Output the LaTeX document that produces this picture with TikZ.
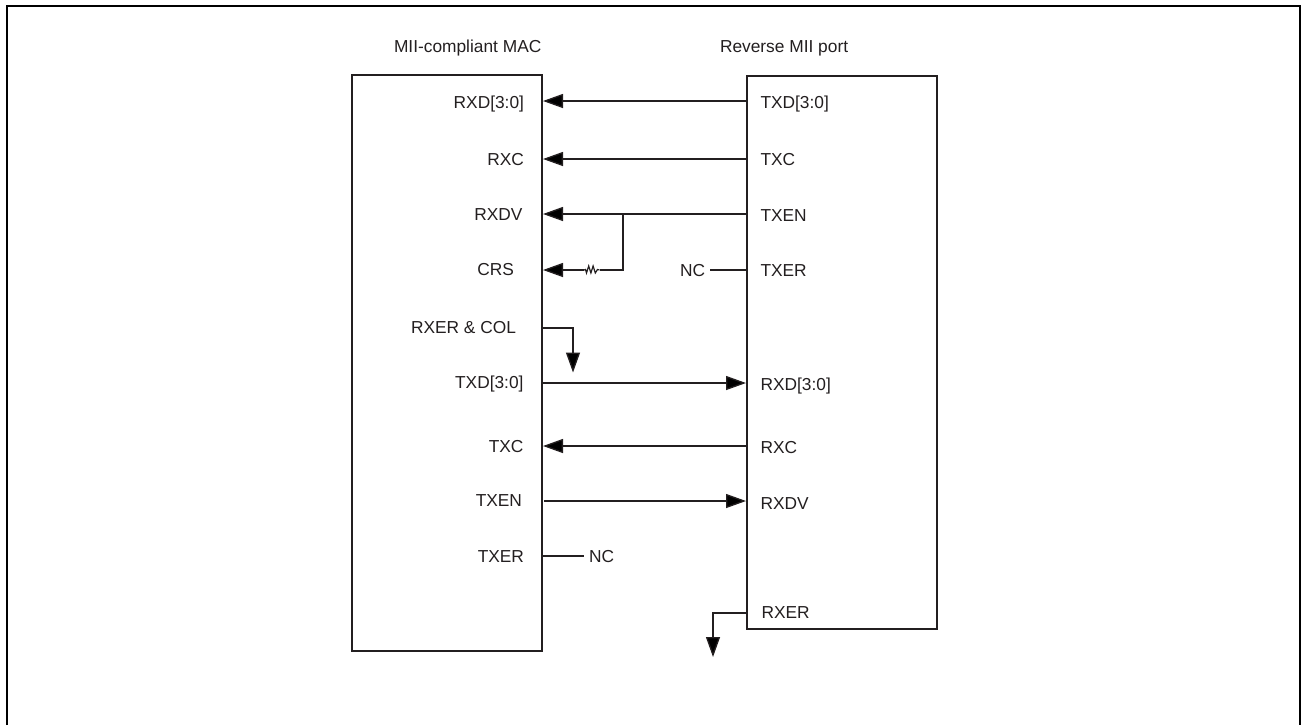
\documentclass[tikz,border=0pt]{standalone}
\usepackage{fontspec}
\setmainfont{Liberation Sans}
\usetikzlibrary{arrows.meta}
\definecolor{ink}{HTML}{231F20}
\tikzset{
  every node/.style={font=\fontsize{13pt}{15pt}\selectfont,text=ink,inner sep=0pt,outer sep=0pt},
  block/.style={draw=ink,line width=1.5pt,rectangle,anchor=north west},
  lab/.style={anchor=base east},
  rab/.style={anchor=base west},
  wire/.style={draw=ink,line width=1pt},
  sig/.style={wire,-{Triangle[length=15pt,width=10.5pt,fill=black]}},
}
\begin{document}
\begin{tikzpicture}[x=0.75pt,y=-0.75pt]
\useasboundingbox (0,0) rectangle (1301,725);
\draw[black,line width=1.6pt] (7,725) -- (7,6) -- (1300,6) -- (1300,725);
% blocks
\node[block,minimum width=143pt,minimum height=432pt] (mac) at (351.5,74.7) {};
\node[block,minimum width=143pt,minimum height=414.5pt] (rmii) at (746.5,76) {};
% titles
\node[rab] (tmac) at (394,52.5) {MII-compliant MAC};
\node[rab] (trmii) at (720,52.5) {Reverse MII port};
% MAC labels
\node[lab] (l1) at (524,108) {RXD[3:0]};
\node[lab] (l2) at (524,165) {RXC};
\node[lab] (l3) at (522.5,220) {RXDV};
\node[lab] (l4) at (514,275.5) {CRS};
\node[lab] (l5) at (516,333) {RXER \& COL};
\node[lab] (l6) at (523.5,388.5) {TXD[3:0]};
\node[lab] (l7) at (523.5,452) {TXC};
\node[lab] (l8) at (522,506) {TXEN};
\node[lab] (l9) at (524,562) {TXER};
% port labels
\node[rab] (r1) at (760.5,108) {TXD[3:0]};
\node[rab] (r2) at (760.5,165.5) {TXC};
\node[rab] (r3) at (760.5,221) {TXEN};
\node[rab] (r4) at (760.5,276) {TXER};
\node[rab] (r5) at (760.5,390) {RXD[3:0]};
\node[rab] (r6) at (760.5,453) {RXC};
\node[rab] (r7) at (760.5,509) {RXDV};
\node[rab] (r8) at (761.5,618) {RXER};
\node[rab] (ncr) at (680,276) {NC};
\node[rab] (ncl) at (589,562) {NC};
% pins
\foreach \n/\y in {a/101,b/159,c/214,d/270,e/328,f/383,g/446,i/556}
  \coordinate (m\n) at (543,\y);
\coordinate (mh) at (544,501);
\foreach \n/\y in {a/101,b/159,c/214,d/270,f/383,g/446,h/501,j/613}
  \coordinate (p\n) at (746,\y);
\coordinate (branch) at (623,214);
\coordinate (branchb) at (623,270);
\coordinate (resA) at (584,270);
\coordinate (resB) at (599.5,270);
\coordinate (stubA) at (573,328);
\coordinate (stubB) at (573,372.5);
\coordinate (stubC) at (713,613);
\coordinate (stubD) at (713,657);
\coordinate (ncrE) at (710,270);
\coordinate (nclE) at (584,556);
% connectors
\draw[sig] (pa) -- (ma);
\draw[sig] (pb) -- (mb);
\draw[sig] (pc) -- (mc);
\draw[wire] (branch) -- (branchb) -- (resB);
\draw[wire,line width=0.9pt] (resB) -- ++(-2,-0.5) -- ++(-2.2,3.5) -- ++(-2.2,-7) -- ++(-2.2,7) -- ++(-2.2,-7) -- ++(-2.2,7) -- ++(-1,-3.5) -- (resA);
\draw[sig] (resA) -- (md);
\draw[wire] (ncrE) -- (pd);
\draw[sig] (me) -- (stubA) -- (stubB);
\draw[sig] (mf) -- (pf);
\draw[sig] (pg) -- (mg);
\draw[sig] (mh) -- (ph);
\draw[wire] (mi) -- (nclE);
\draw[sig] (pj) -- (stubC) -- (stubD);
\end{tikzpicture}
\end{document}
